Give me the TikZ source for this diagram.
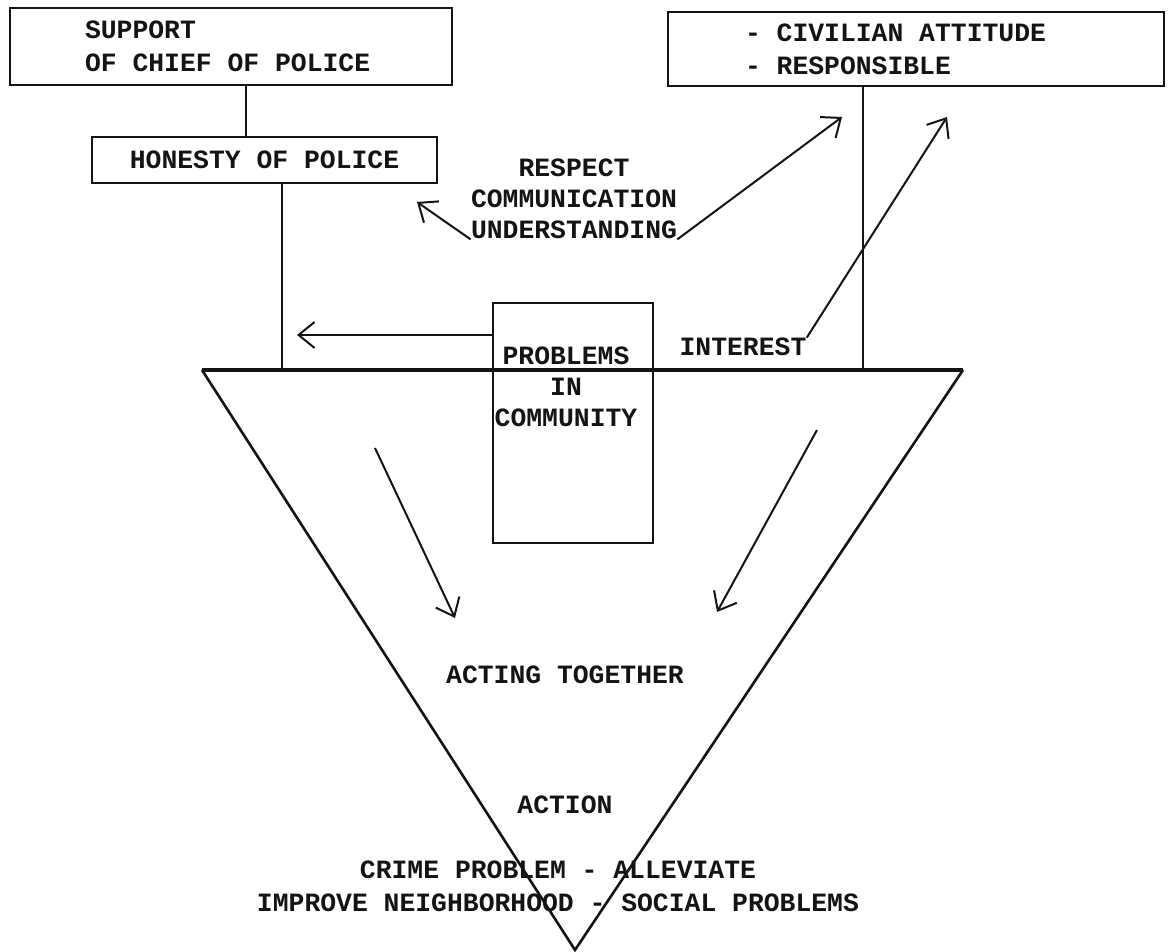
\documentclass[tikz,border=0pt]{standalone}
\usepackage{fontspec}
\usepackage{tikz}
\usetikzlibrary{arrows.meta,calc}
\newfontfamily\schreibm{Liberation Mono}
\definecolor{tinte}{HTML}{141414}
\tikzset{
  schrift/.style={font=\schreibm\bfseries\fontsize{13.2}{15.5}\selectfont,text=tinte,inner sep=0pt},
  rahmen/.style={schrift,draw=tinte,line width=1.2pt,font=\schreibm\bfseries\fontsize{13.2}{16.5}\selectfont},
  links/.style={align=left,execute at begin node={\spaceskip=.6em\relax\xspaceskip=.6em\relax}},
  linie/.style={tinte,line width=1.1pt},
  pfeil/.style={-{Straight Barb[length=8pt,width=13pt]},tinte,line width=1pt},
  dreieck/.style={tinte,line width=1.3pt},
}

\begin{document}
\begin{tikzpicture}[x=0.5pt,y=-0.5pt]
  \fill[white] (0,0) rectangle (1168,951);
  % Kaesten oben
  \node[rahmen,links,minimum width=221pt,minimum height=38.5pt,text width=146pt,inner xsep=37.5pt] (support) at (231,46.5) {SUPPORT\\OF CHIEF OF POLICE};
  \node[rahmen,minimum width=172.5pt,minimum height=23pt] (honesty) at (264.5,160) {HONESTY OF POLICE};
  \node[rahmen,links,minimum width=248pt,minimum height=37pt,text width=171pt,inner xsep=38.5pt] (civil) at (916,49) {- CIVILIAN ATTITUDE\\- RESPONSIBLE};
  % Dreieck
  \coordinate (tl) at (202,370);
  \coordinate (tr) at (963,370);
  \coordinate (tip) at (575,950);
  \draw[dreieck] (tl) -- (tip) -- (tr);
  \draw[dreieck,line width=1.7pt] (tl) -- (tr);
  % Verbindungen
  \coordinate (sl) at (246,0);
  \coordinate (hl) at (282,370);
  \coordinate (cl) at (863,370);
  \draw[linie] (support.south -| sl) -- (honesty.north -| sl);
  \draw[linie] (honesty.south -| hl) -- (hl);
  \draw[linie] (civil.south -| cl) -- (cl);
  % Kasten Mitte
  \node[rahmen,minimum width=80pt,minimum height=120pt] (probbox) at (573,423) {};
  \node[schrift,align=center] (problems) at (566,387) {PROBLEMS\\IN\\COMMUNITY};
  % Texte
  \node[schrift,align=center] (respect) at (574,199) {RESPECT\\COMMUNICATION\\UNDERSTANDING};
  \node[schrift] (interest) at (743,347) {INTEREST};
  \node[schrift] (acting) at (565,675) {ACTING TOGETHER};
  \node[schrift] (action) at (565,805) {ACTION};
  \node[schrift,align=center,font=\schreibm\bfseries\fontsize{13.2}{16.5}\selectfont] (crime) at (558,886) {CRIME PROBLEM - ALLEVIATE\\IMPROVE NEIGHBORHOOD - SOCIAL PROBLEMS};
  % Pfeile
  \coordinate (p1) at (417,202);
  \coordinate (p2) at (842,117);
  \coordinate (p3) at (947,117);
  \coordinate (hp) at (297,335);
  \coordinate (l1) at (375,448);
  \coordinate (l2) at (455,618);
  \coordinate (r1) at (817,430);
  \coordinate (r2) at (717,612);
  \draw[pfeil] (respect.south west) -- (p1);
  \draw[pfeil] (respect.south east) -- (p2);
  \draw[pfeil] (interest.north east) -- (p3);
  \draw[pfeil] (probbox.west |- hp) -- (hp);
  \draw[pfeil] (l1) -- (l2);
  \draw[pfeil] (r1) -- (r2);
\end{tikzpicture}
\end{document}
